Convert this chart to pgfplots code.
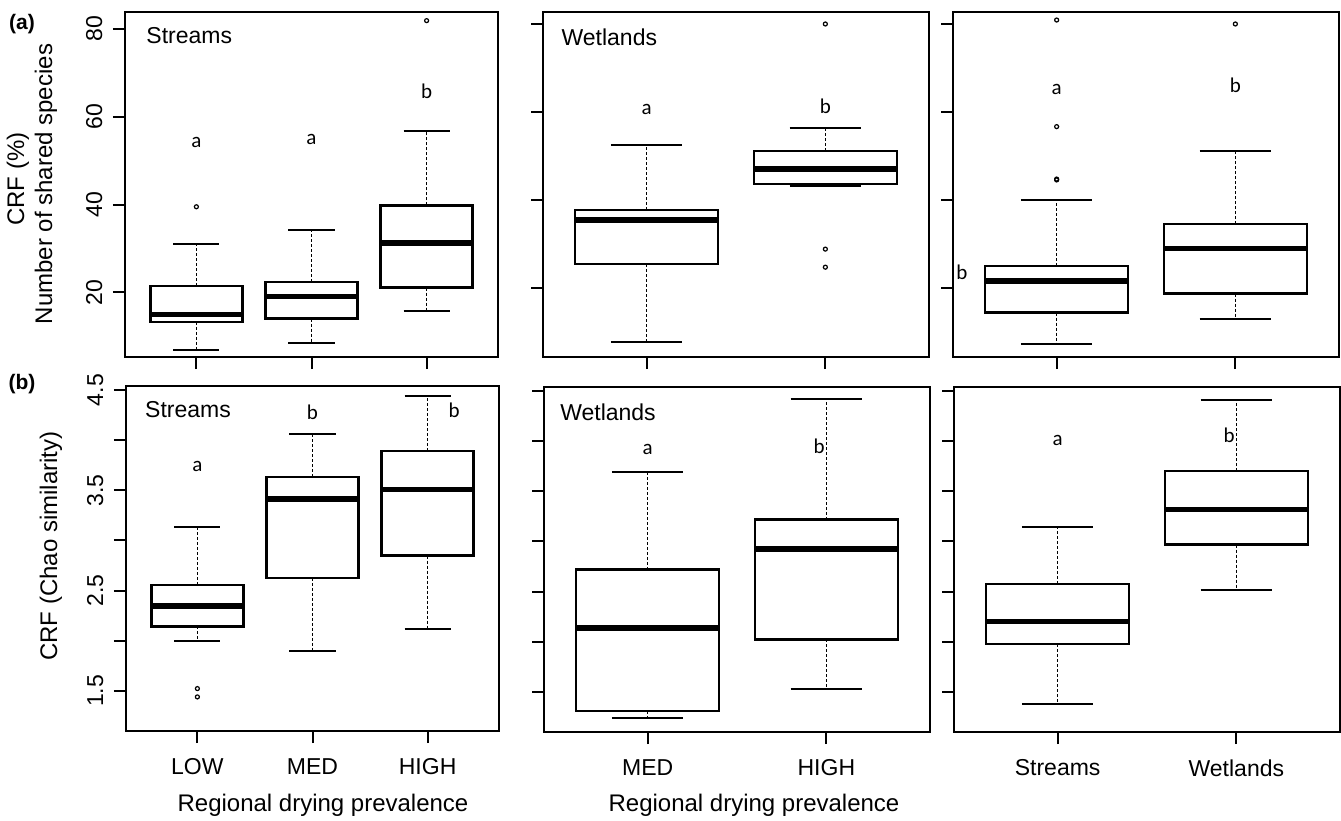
\documentclass[border=0pt]{standalone}
\usepackage{pgfplots}
\pgfplotsset{compat=1.18}
\usepgfplotslibrary{statistics}
\usepackage{fontspec}
\setmainfont{Liberation Sans}
\newfontfamily\lettfont{Carlito}

\pgfplotsset{
  rpanel/.style={
    scale only axis, anchor=north west, clip=false,
    axis line style={line width=2pt},
    tick style={black, line width=2pt},
    tick align=outside, major tick length=12pt,
    xtick pos=left, ytick pos=left,
    ticklabel style={font=\fontsize{23}{27}\selectfont},
    yticklabel style={rotate=90, anchor=south},
    yticklabel shift=7pt, xticklabel shift=12pt,
    boxplot/draw direction=y,
    boxplot/box extend=0.8,
    boxplot/whisker extend=0.4,
    boxplot/every box/.style={line width=2.4pt},
    boxplot/every median/.style={line width=5.5pt},
    boxplot/draw/lower whisker/.code={
      \draw[line width=1.3pt, dash pattern=on 3pt off 2pt]
        (boxplot box cs:\pgfplotsboxplotvalue{lower quartile},0.5) --
        (boxplot box cs:\pgfplotsboxplotvalue{lower whisker},0.5);
      \draw[line width=2pt]
        (boxplot whisker cs:\pgfplotsboxplotvalue{lower whisker},0) --
        (boxplot whisker cs:\pgfplotsboxplotvalue{lower whisker},1);
    },
    boxplot/draw/upper whisker/.code={
      \draw[line width=1.3pt, dash pattern=on 3pt off 2pt]
        (boxplot box cs:\pgfplotsboxplotvalue{upper quartile},0.5) --
        (boxplot box cs:\pgfplotsboxplotvalue{upper whisker},0.5);
      \draw[line width=2pt]
        (boxplot whisker cs:\pgfplotsboxplotvalue{upper whisker},0) --
        (boxplot whisker cs:\pgfplotsboxplotvalue{upper whisker},1);
    },
  },
  three/.style={rpanel, width=373pt, height=345pt, xmin=0.38, xmax=3.62, xtick={1,2,3}},
  two/.style={rpanel, width=386pt, height=345pt, xmin=0.42, xmax=2.58, xtick={1,2}},
  toprow/.style={ymin=5.27, ymax=83.87, ytick={20,40,60,80}, xticklabels={}},
  toprowb/.style={ymin=4.41, ymax=82.72, ytick={20,40,60,80}, xticklabels={}, yticklabels={}},
  botrow/.style={ymin=1.10, ymax=4.54, ytick={1.5,2,2.5,3,3.5,4,4.5}},
  bx/.style={black, mark=o, mark size=2pt, mark options={solid, line width=1.2pt}},
}
\newcommand\lett[1]{\lettfont\fontsize{21}{24}\selectfont #1}
\newcommand\ptxt{\fontsize{23}{27}\selectfont}

\begin{document}
\begin{tikzpicture}
\path[use as bounding box] (0pt,0pt) rectangle (1341pt,-820pt);

% ---------- (a) CRF (%) ----------
\begin{axis}[three, toprow, at={(125pt,-12pt)}, yticklabels={20,40,60,80}]
\addplot[bx, boxplot prepared={draw position=1, lower whisker=6.8, lower quartile=13.3,
  median=14.9, upper quartile=21.5, upper whisker=31.0}] coordinates {(1,39.5)};
\addplot[bx, boxplot prepared={draw position=2, lower whisker=8.5, lower quartile=14.0,
  median=19.1, upper quartile=22.4, upper whisker=34.2}] coordinates {};
\addplot[bx, boxplot prepared={draw position=3, lower whisker=15.7, lower quartile=21.1,
  median=31.3, upper quartile=39.8, upper whisker=56.8}] coordinates {(3,81.9)};
\node[anchor=west, font=\ptxt] at (rel axis cs:0.048,0.933) {Streams};
\node at (axis cs:1,54.1) {\lett{a}};
\node at (axis cs:2,54.9) {\lett{a}};
\node at (axis cs:3,65.7) {\lett{b}};
\end{axis}

\begin{axis}[two, toprowb, at={(543pt,-12pt)}]
\addplot[bx, boxplot prepared={draw position=1, lower whisker=7.9, lower quartile=25.5,
  median=35.5, upper quartile=37.8, upper whisker=52.5}] coordinates {};
\addplot[bx, boxplot prepared={draw position=2, lower whisker=43.3, lower quartile=43.7,
  median=47.1, upper quartile=51.2, upper whisker=56.3}] coordinates {(2,28.9) (2,24.8) (2,80.0)};
\node[anchor=west, font=\ptxt] at (rel axis cs:0.039,0.928) {Wetlands};
\node at (axis cs:1,60.5) {\lett{a}};
\node at (axis cs:2,61.4) {\lett{b}};
\end{axis}

\begin{axis}[two, toprowb, at={(953pt,-12pt)}]
\addplot[bx, boxplot prepared={draw position=1, lower whisker=7.4, lower quartile=14.5,
  median=21.7, upper quartile=25.1, upper whisker=40.0}] coordinates {(1,80.9) (1,56.7) (1,44.6) (1,44.8)};
\addplot[bx, boxplot prepared={draw position=2, lower whisker=13.1, lower quartile=18.8,
  median=29.0, upper quartile=34.6, upper whisker=51.2}] coordinates {(2,80.0)};
\node at (axis cs:1,65.2) {\lett{a}};
\node at (axis cs:0.47,23.6) {\lett{b}};
\node at (axis cs:2,66.2) {\lett{b}};
\end{axis}

% ---------- (b) CRF (Chao similarity) ----------
\begin{axis}[three, botrow, at={(126pt,-386pt)}, xticklabels={LOW,MED,HIGH},
  yticklabels={1.5,,2.5,,3.5,,4.5}]
\addplot[bx, boxplot prepared={draw position=1, lower whisker=1.997, lower quartile=2.143,
  median=2.345, upper quartile=2.557, upper whisker=3.131}] coordinates {(1,1.523) (1,1.44)};
\addplot[bx, boxplot prepared={draw position=2, lower whisker=1.894, lower quartile=2.627,
  median=3.413, upper quartile=3.635, upper whisker=4.062}] coordinates {};
\addplot[bx, boxplot prepared={draw position=3, lower whisker=2.113, lower quartile=2.849,
  median=3.506, upper quartile=3.893, upper whisker=4.440}] coordinates {};
\node[anchor=west, font=\ptxt] at (rel axis cs:0.042,0.932) {Streams};
\node at (axis cs:1,3.734) {\lett{a}};
\node at (axis cs:2,4.275) {\lett{b}};
\node at (axis cs:3.23,4.298) {\lett{b}};
\end{axis}

\begin{axis}[two, botrow, at={(544pt,-387pt)}, xticklabels={MED,HIGH}, yticklabels={}]
\addplot[bx, boxplot prepared={draw position=1, lower whisker=1.235, lower quartile=1.311,
  median=2.136, upper quartile=2.720, upper whisker=3.694}] coordinates {};
\addplot[bx, boxplot prepared={draw position=2, lower whisker=1.533, lower quartile=2.024,
  median=2.925, upper quartile=3.217, upper whisker=4.417}] coordinates {};
\node[anchor=west, font=\ptxt] at (rel axis cs:0.033,0.928) {Wetlands};
\node at (axis cs:1,3.920) {\lett{a}};
\node at (axis cs:1.96,3.953) {\lett{b}};
\end{axis}

\begin{axis}[two, botrow, at={(954pt,-387pt)}, xticklabels={Streams,Wetlands}, yticklabels={}]
\addplot[bx, boxplot prepared={draw position=1, lower whisker=1.383, lower quartile=1.976,
  median=2.203, upper quartile=2.576, upper whisker=3.148}] coordinates {};
\addplot[bx, boxplot prepared={draw position=2, lower whisker=2.519, lower quartile=2.969,
  median=3.318, upper quartile=3.701, upper whisker=4.407}] coordinates {};
\node at (axis cs:1,4.007) {\lett{a}};
\node at (axis cs:1.96,4.057) {\lett{b}};
\end{axis}

% ---------- labels ----------
\node[font=\bfseries\fontsize{21}{24}\selectfont] at (22pt,-24pt) {(a)};
\node[font=\bfseries\fontsize{21}{24}\selectfont] at (22pt,-384pt) {(b)};
\node[rotate=90, font=\fontsize{24}{28}\selectfont] at (18pt,-179pt) {CRF (\%)};
\node[rotate=90, font=\fontsize{24}{28}\selectfont] at (46pt,-184pt) {Number of shared species};
\node[rotate=90, font=\fontsize{24}{28}\selectfont] at (51pt,-546pt) {CRF (Chao similarity)};
\node[font=\fontsize{24}{28}\selectfont] at (323pt,-805pt) {Regional drying prevalence};
\node[font=\fontsize{24}{28}\selectfont] at (754pt,-805pt) {Regional drying prevalence};
\end{tikzpicture}
\end{document}
